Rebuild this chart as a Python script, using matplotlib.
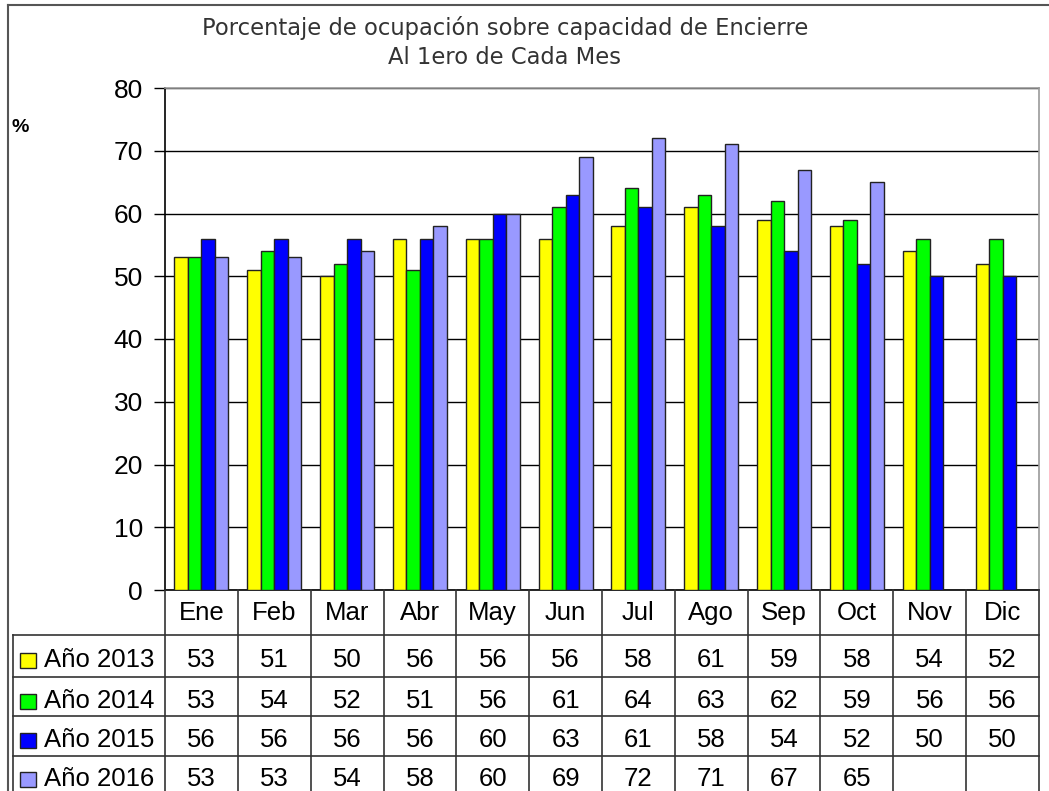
import matplotlib
matplotlib.use('Agg')
import matplotlib.pyplot as plt
import matplotlib.transforms as mtransforms
from matplotlib.lines import Line2D
from matplotlib.patches import Rectangle
import numpy as np

# datos del gráfico
meses = ['Ene', 'Feb', 'Mar', 'Abr', 'May', 'Jun', 'Jul', 'Ago', 'Sep', 'Oct', 'Nov', 'Dic']
anio_2013 = [53, 51, 50, 56, 56, 56, 58, 61, 59, 58, 54, 52]
anio_2014 = [53, 54, 52, 51, 56, 61, 64, 63, 62, 59, 56, 56]
anio_2015 = [56, 56, 56, 56, 60, 63, 61, 58, 54, 52, 50, 50]
anio_2016 = [53, 53, 54, 58, 60, 69, 72, 71, 67, 65, None, None]
series = ['Año 2013', 'Año 2014', 'Año 2015', 'Año 2016']
colores = ['#FFFF00', '#00FF00', '#0000FF', '#9999FF']

W, H = 1049, 791
fig = plt.figure(figsize=(W / 100, H / 100), dpi=100)
fig.patch.set_facecolor('white')


def fy(y):
    return 1 - y / H


ax = fig.add_axes([165 / W, fy(590), (1039 - 165) / W, (590 - 88) / H])

datos = [anio_2013, anio_2014, anio_2015, anio_2016]
x = np.arange(len(meses))
ancho = 0.185
for k, (vals, col) in enumerate(zip(datos, colores)):
    v = np.array([np.nan if d is None else d for d in vals], dtype=float)
    ax.bar(x + (k - 1.5) * ancho, v, width=ancho, color=col,
           edgecolor='#222222', linewidth=1.0, zorder=3)

ax.set_xlim(-0.5, 11.5)
ax.set_ylim(0, 80)
ax.set_yticks(range(0, 81, 10))
ax.set_xticks([])
ax.yaxis.grid(True, color='black', linewidth=1.0, zorder=0)
ax.set_axisbelow(True)
ax.tick_params(axis='y', length=8, width=1, pad=8, labelsize=19)
for lab in ax.get_yticklabels():
    lab.set_family('Liberation Sans')
ax.spines['left'].set_color('black')
ax.spines['bottom'].set_color('black')
ax.spines['top'].set_color('#999999')
ax.spines['right'].set_color('#999999')
for s in ax.spines.values():
    s.set_linewidth(1.2)

# titulo y unidad
fig.text(505 / W, fy(28), 'Porcentaje de ocupación sobre capacidad de Encierre',
         ha='center', va='center', fontsize=16.3, family='DejaVu Sans', color='#333333')
fig.text(505 / W, fy(57), 'Al 1ero de Cada Mes',
         ha='center', va='center', fontsize=16.3, family='DejaVu Sans', color='#333333')
fig.text(12 / W, fy(127), '%', ha='left', va='center', fontsize=14,
         family='Liberation Sans', fontweight='bold')

# marco exterior
fig.add_artist(Line2D([8 / W, 8 / W], [fy(5), 0], transform=fig.transFigure,
                      color='#555555', linewidth=1.5))
fig.add_artist(Line2D([8 / W, 1], [fy(5), fy(5)], transform=fig.transFigure,
                      color='#555555', linewidth=1.5))

# tabla de datos bajo el gráfico
tr = mtransforms.blended_transform_factory(ax.transData, fig.transFigure)
filas_y = [590, 635, 677, 716, 756, 794]
lc = '#333333'
for i in range(len(meses) + 1):
    xb = i - 0.5
    fig.add_artist(Line2D([xb, xb], [fy(590), 0], transform=tr, color=lc,
                          linewidth=1.2, clip_on=False))
for yy in filas_y[1:5]:
    fig.add_artist(Line2D([13 / W, 1039 / W], [fy(yy), fy(yy)],
                          transform=fig.transFigure, color=lc, linewidth=1.2))
fig.add_artist(Line2D([13 / W, 13 / W], [fy(635), 0], transform=fig.transFigure,
                      color=lc, linewidth=1.2))

for i, m in enumerate(meses):
    fig.text(i, fy(613), m, transform=tr, ha='center', va='center',
             fontsize=18.5, family='Liberation Sans')

for r, (nombre, vals, col) in enumerate(zip(series, datos, colores)):
    yc = (filas_y[r + 1] + filas_y[r + 2]) / 2 + 4
    fig.add_artist(Rectangle((20 / W, fy(yc + 8)), 16 / W, 15 / H,
                             transform=fig.transFigure, facecolor=col,
                             edgecolor='#222222', linewidth=1))
    fig.text(44 / W, fy(yc), nombre, ha='left', va='center', fontsize=18.5,
             family='Liberation Sans')
    for i, v in enumerate(vals):
        if v is not None:
            fig.text(i, fy(yc), str(v), transform=tr, ha='center', va='center',
                     fontsize=18.5, family='Liberation Sans')

fig.savefig('out.png', dpi=100)
